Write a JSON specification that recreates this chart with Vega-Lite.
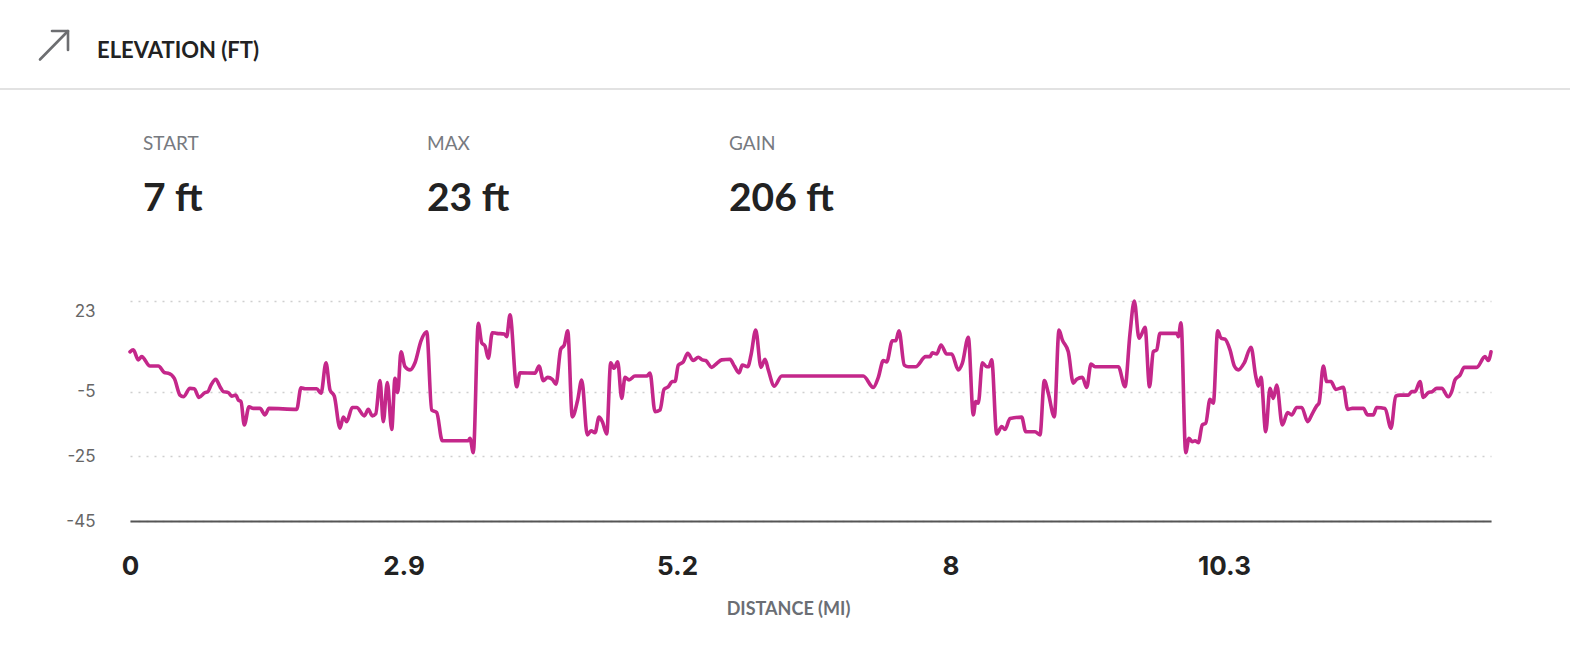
{
  "$schema": "https://vega.github.io/schema/vega-lite/v6.json",
  "width": 1361,
  "height": 521,
  "autosize": {"type": "none"},
  "padding": {"left": 130, "top": 0, "right": 79, "bottom": 149},
  "background": "white",
  "config": {"view": {"stroke": null}},
  "datasets": {
    "elevation": [
      {"i": 0, "ft": 7.3}, {"i": 0.0121, "ft": 7.9}, {"i": 0.0303, "ft": 4.8}, {"i": 0.0428, "ft": 5.8},
      {"i": 0.0731, "ft": 2.9}, {"i": 0.1035, "ft": 2.9}, {"i": 0.128, "ft": 0.8}, {"i": 0.14, "ft": 0.7},
      {"i": 0.162, "ft": -0.9}, {"i": 0.1828, "ft": -6.1}, {"i": 0.1949, "ft": -6.6}, {"i": 0.2194, "ft": -4.0},
      {"i": 0.2351, "ft": -4.1}, {"i": 0.2523, "ft": -6.8}, {"i": 0.2742, "ft": -5.3}, {"i": 0.2841, "ft": -5.1},
      {"i": 0.2962, "ft": -3.0}, {"i": 0.3133, "ft": -1.2}, {"i": 0.3291, "ft": -3.5}, {"i": 0.3411, "ft": -5.0},
      {"i": 0.3594, "ft": -5.3}, {"i": 0.3718, "ft": -6.4}, {"i": 0.3865, "ft": -6.1}, {"i": 0.396, "ft": -7.6},
      {"i": 0.4059, "ft": -8.1}, {"i": 0.4179, "ft": -15.3}, {"i": 0.4351, "ft": -9.7}, {"i": 0.4508, "ft": -10.2},
      {"i": 0.4753, "ft": -10.2}, {"i": 0.4936, "ft": -12.2}, {"i": 0.5082, "ft": -10.2}, {"i": 0.6095, "ft": -10.5},
      {"i": 0.6252, "ft": -3.8}, {"i": 0.6399, "ft": -4.1}, {"i": 0.6826, "ft": -4.1}, {"i": 0.6984, "ft": -5.5},
      {"i": 0.7166, "ft": 3.9}, {"i": 0.7313, "ft": -4.5}, {"i": 0.747, "ft": -6.4}, {"i": 0.7678, "ft": -16.3},
      {"i": 0.7799, "ft": -12.9}, {"i": 0.7923, "ft": -14.3}, {"i": 0.8128, "ft": -9.9}, {"i": 0.8289, "ft": -9.9},
      {"i": 0.8567, "ft": -12.5}, {"i": 0.8713, "ft": -10.5}, {"i": 0.8859, "ft": -12.5}, {"i": 0.8984, "ft": -11.9},
      {"i": 0.9141, "ft": -1.6}, {"i": 0.9261, "ft": -14.3}, {"i": 0.9408, "ft": -2.2}, {"i": 0.9569, "ft": -16.7},
      {"i": 0.9689, "ft": -0.9}, {"i": 0.9788, "ft": -5.3}, {"i": 0.9909, "ft": 7.3}, {"i": 1.0055, "ft": 2.7},
      {"i": 1.0238, "ft": 1.7}, {"i": 1.042, "ft": 3.9}, {"i": 1.064, "ft": 10.7}, {"i": 1.0848, "ft": 13.5},
      {"i": 1.1031, "ft": -10.7}, {"i": 1.1214, "ft": -11.5}, {"i": 1.1419, "ft": -20.2}, {"i": 1.158, "ft": -20.2},
      {"i": 1.2369, "ft": -20.2}, {"i": 1.2431, "ft": -19.4}, {"i": 1.2552, "ft": -23.9}, {"i": 1.2735, "ft": 16.1},
      {"i": 1.2859, "ft": 10.1}, {"i": 1.298, "ft": 9.1}, {"i": 1.3101, "ft": 5.3}, {"i": 1.3247, "ft": 13.2},
      {"i": 1.3408, "ft": 13.0}, {"i": 1.3686, "ft": 12.8}, {"i": 1.3773, "ft": 12.0}, {"i": 1.3894, "ft": 18.7},
      {"i": 1.4139, "ft": -3.5}, {"i": 1.426, "ft": 0.8}, {"i": 1.4808, "ft": 0.7}, {"i": 1.4954, "ft": 2.9},
      {"i": 1.5111, "ft": -1.6}, {"i": 1.5272, "ft": -0.6}, {"i": 1.5441, "ft": -1.2}, {"i": 1.5576, "ft": -2.7},
      {"i": 1.5748, "ft": 8.1}, {"i": 1.5879, "ft": 9.4}, {"i": 1.6004, "ft": 13.8}, {"i": 1.6172, "ft": -12.8},
      {"i": 1.6369, "ft": -7.6}, {"i": 1.6516, "ft": -1.4}, {"i": 1.672, "ft": -18.4}, {"i": 1.6856, "ft": -17.1},
      {"i": 1.7002, "ft": -17.7}, {"i": 1.7148, "ft": -12.9}, {"i": 1.7269, "ft": -14.3}, {"i": 1.743, "ft": -18.1},
      {"i": 1.7576, "ft": 3.9}, {"i": 1.7697, "ft": 2.2}, {"i": 1.7832, "ft": 4.2}, {"i": 1.7978, "ft": -7.1},
      {"i": 1.8099, "ft": -0.6}, {"i": 1.8245, "ft": -1.4}, {"i": 1.8464, "ft": -0.2}, {"i": 1.8892, "ft": -0.2},
      {"i": 1.9013, "ft": 0.7}, {"i": 1.9196, "ft": -11.2}, {"i": 1.9378, "ft": -10.7}, {"i": 1.9525, "ft": -4.3},
      {"i": 1.9682, "ft": -3.5}, {"i": 1.9828, "ft": -1.9}, {"i": 1.9927, "ft": -1.9}, {"i": 2.0048, "ft": 3.2},
      {"i": 2.023, "ft": 4.2}, {"i": 2.0391, "ft": 6.8}, {"i": 2.0596, "ft": 4.6}, {"i": 2.0779, "ft": 5.6},
      {"i": 2.0925, "ft": 4.8}, {"i": 2.1049, "ft": 4.6}, {"i": 2.1269, "ft": 2.5}, {"i": 2.1452, "ft": 3.7},
      {"i": 2.1634, "ft": 4.8}, {"i": 2.1938, "ft": 5.0}, {"i": 2.2095, "ft": 2.9}, {"i": 2.2267, "ft": 0.8},
      {"i": 2.2388, "ft": 3.2}, {"i": 2.2585, "ft": 2.7}, {"i": 2.2706, "ft": 6.3}, {"i": 2.2878, "ft": 14.0},
      {"i": 2.3071, "ft": 2.5}, {"i": 2.3218, "ft": 5.0}, {"i": 2.3338, "ft": 1.7}, {"i": 2.3558, "ft": -3.3},
      {"i": 2.3828, "ft": -0.2}, {"i": 2.6812, "ft": -0.2}, {"i": 2.7177, "ft": -3.7}, {"i": 2.736, "ft": -0.6},
      {"i": 2.7543, "ft": 4.6}, {"i": 2.7667, "ft": 4.2}, {"i": 2.7872, "ft": 10.7}, {"i": 2.7996, "ft": 10.7},
      {"i": 2.8117, "ft": 13.8}, {"i": 2.8311, "ft": 3.2}, {"i": 2.8457, "ft": 2.7}, {"i": 2.8727, "ft": 2.7},
      {"i": 2.9093, "ft": 5.8}, {"i": 2.925, "ft": 5.8}, {"i": 2.9335, "ft": 7.0}, {"i": 2.9495, "ft": 6.6},
      {"i": 2.9653, "ft": 9.4}, {"i": 2.9861, "ft": 6.6}, {"i": 3.0044, "ft": 6.6}, {"i": 3.0285, "ft": 1.7},
      {"i": 3.0431, "ft": 3.7}, {"i": 3.0651, "ft": 11.8}, {"i": 3.0834, "ft": -12.2}, {"i": 3.0921, "ft": -8.1},
      {"i": 3.1016, "ft": -8.6}, {"i": 3.1163, "ft": 3.9}, {"i": 3.1324, "ft": 2.7}, {"i": 3.1408, "ft": 2.7},
      {"i": 3.1506, "ft": 4.8}, {"i": 3.1689, "ft": -18.1}, {"i": 3.1872, "ft": -15.8}, {"i": 3.1993, "ft": -16.7},
      {"i": 3.2176, "ft": -13.3}, {"i": 3.2603, "ft": -12.9}, {"i": 3.275, "ft": -17.4}, {"i": 3.309, "ft": -17.4},
      {"i": 3.3272, "ft": -18.4}, {"i": 3.343, "ft": -1.6}, {"i": 3.3576, "ft": -5.5}, {"i": 3.3795, "ft": -12.8},
      {"i": 3.3967, "ft": 14.0}, {"i": 3.4088, "ft": 11.0}, {"i": 3.4307, "ft": 7.3}, {"i": 3.449, "ft": -2.4},
      {"i": 3.4614, "ft": -1.2}, {"i": 3.4819, "ft": -0.6}, {"i": 3.498, "ft": -3.7}, {"i": 3.5137, "ft": 3.5},
      {"i": 3.5283, "ft": 2.7}, {"i": 3.6135, "ft": 2.7}, {"i": 3.638, "ft": -3.5}, {"i": 3.6563, "ft": 13.0},
      {"i": 3.672, "ft": 23.0}, {"i": 3.6892, "ft": 11.5}, {"i": 3.7086, "ft": 14.6}, {"i": 3.7112, "ft": 14.9},
      {"i": 3.7276, "ft": -3.5}, {"i": 3.7415, "ft": 7.3}, {"i": 3.7539, "ft": 7.9}, {"i": 3.766, "ft": 13.0},
      {"i": 3.8271, "ft": 13.0}, {"i": 3.8329, "ft": 12.0}, {"i": 3.8428, "ft": 16.3}, {"i": 3.86, "ft": -23.9},
      {"i": 3.872, "ft": -19.4}, {"i": 3.8841, "ft": -20.5}, {"i": 3.894, "ft": -20.2}, {"i": 3.9061, "ft": -20.8},
      {"i": 3.9207, "ft": -15.3}, {"i": 3.9331, "ft": -14.8}, {"i": 3.9488, "ft": -7.4}, {"i": 3.9609, "ft": -8.6},
      {"i": 3.977, "ft": 13.8}, {"i": 3.989, "ft": 11.5}, {"i": 4.0037, "ft": 11.2}, {"i": 4.0219, "ft": 7.9},
      {"i": 4.0377, "ft": 2.9}, {"i": 4.0523, "ft": 1.7}, {"i": 4.0742, "ft": 3.9}, {"i": 4.0987, "ft": 8.7},
      {"i": 4.1159, "ft": -0.2}, {"i": 4.1254, "ft": -3.3}, {"i": 4.1353, "ft": -0.6}, {"i": 4.1525, "ft": -17.4},
      {"i": 4.1682, "ft": -4.0}, {"i": 4.1803, "ft": -7.1}, {"i": 4.1927, "ft": -3.0}, {"i": 4.2132, "ft": -15.3},
      {"i": 4.2329, "ft": -11.5}, {"i": 4.2475, "ft": -12.2}, {"i": 4.2658, "ft": -9.9}, {"i": 4.2841, "ft": -9.9},
      {"i": 4.306, "ft": -14.3}, {"i": 4.3207, "ft": -12.2}, {"i": 4.3389, "ft": -9.4}, {"i": 4.3473, "ft": -8.6},
      {"i": 4.3631, "ft": 2.9}, {"i": 4.3755, "ft": -1.9}, {"i": 4.3912, "ft": -1.9}, {"i": 4.4084, "ft": -4.3},
      {"i": 4.4362, "ft": -3.7}, {"i": 4.4523, "ft": -10.5}, {"i": 4.4691, "ft": -10.2}, {"i": 4.5093, "ft": -10.2},
      {"i": 4.5254, "ft": -12.2}, {"i": 4.5459, "ft": -12.2}, {"i": 4.5583, "ft": -9.9}, {"i": 4.5887, "ft": -10.2},
      {"i": 4.6106, "ft": -16.3}, {"i": 4.6278, "ft": -6.4}, {"i": 4.6435, "ft": -6.1}, {"i": 4.6739, "ft": -6.1},
      {"i": 4.6863, "ft": -5.0}, {"i": 4.6984, "ft": -5.0}, {"i": 4.7166, "ft": -1.9}, {"i": 4.7287, "ft": -6.8},
      {"i": 4.747, "ft": -5.3}, {"i": 4.7616, "ft": -5.0}, {"i": 4.7777, "ft": -4.0}, {"i": 4.796, "ft": -4.0},
      {"i": 4.8201, "ft": -6.6}, {"i": 4.8325, "ft": -5.0}, {"i": 4.8446, "ft": -1.4}, {"i": 4.8629, "ft": 0.1},
      {"i": 4.8786, "ft": 2.5}, {"i": 4.924, "ft": 2.5}, {"i": 4.9543, "ft": 5.8}, {"i": 4.9664, "ft": 4.6},
      {"i": 4.9762, "ft": 7.3}
    ]
  },
  "layer": [
    {
      "data": {"name": "elevation"},
      "mark": {"type": "line", "color": "#c4278a", "strokeWidth": 3.6, "interpolate": "monotone", "strokeJoin": "round", "strokeCap": "round"},
      "encoding": {
        "x": {
          "field": "i", "type": "quantitative",
          "scale": {"domain": [0, 4.9762], "nice": false, "zero": false},
          "axis": {
            "values": [0, 1, 2, 3, 4],
            "labelExpr": "['0','2.9','5.2','8','10.3'][datum.value]",
            "title": "DISTANCE (MI)",
            "grid": false, "ticks": false, "tickSize": 0,
            "domainColor": "#555555", "domainWidth": 2,
            "labelFont": "Inter", "labelFontSize": 26, "labelFontWeight": "bold", "labelColor": "#222222",
            "labelPadding": 32, "labelFlush": false, "labelOverlap": false, "labelBound": false,
            "titleFont": "Lato", "titleFontSize": 18,
            "titleFontWeight": "bold", "titleColor": "#6b6e74", "titlePadding": 21, "titleX": 658
          }
        },
        "y": {
          "field": "ft", "type": "quantitative",
          "scale": {"domain": [-45, 116.04], "nice": false, "zero": false},
          "axis": {
            "values": [-45, -25, -5, 23],
            "labelExpr": "datum.value + ''",
            "title": null, "domain": false, "ticks": false, "tickSize": 0,
            "labelPadding": 35, "labelFont": "Inter", "labelFontSize": 17, "labelColor": "#666666",
            "labelOffset": {"condition": {"test": "datum.value === 23", "value": 10}, "value": 0},
            "grid": true, "gridColor": "#cfcfcf", "gridDash": [2, 6], "gridWidth": 1.5
          }
        }
      }
    },
    {
      "data": {"values": [{}]},
      "mark": {"type": "rule", "color": "#e2e2e2", "strokeWidth": 2},
      "encoding": {"x": {"datum": -0.4753}, "x2": {"datum": 5.2651}, "y": {"datum": 88.53}}
    },
    {
      "data": {"values": [{}]},
      "mark": {"type": "rule", "color": "#6d6e71", "strokeWidth": 2.6, "strokeCap": "round"},
      "encoding": {"x": {"datum": -0.3291}, "x2": {"datum": -0.2303}, "y": {"datum": 97.64}, "y2": {"datum": 106.14}}
    },
    {
      "data": {"values": [{}]},
      "mark": {"type": "rule", "color": "#6d6e71", "strokeWidth": 2.6, "strokeCap": "round"},
      "encoding": {"x": {"datum": -0.2852}, "x2": {"datum": -0.2267}, "y": {"datum": 106.45}}
    },
    {
      "data": {"values": [{}]},
      "mark": {"type": "rule", "color": "#6d6e71", "strokeWidth": 2.6, "strokeCap": "round"},
      "encoding": {"x": {"datum": -0.2267}, "y": {"datum": 106.45}, "y2": {"datum": 100.58}}
    },
    {
      "data": {"values": [{}]},
      "mark": {"type": "text", "text": "ELEVATION (FT)", "align": "left", "baseline": "alphabetic", "font": "Lato", "fontSize": 22, "fontWeight": "bold", "color": "#222222"},
      "encoding": {"x": {"datum": -0.1207}, "y": {"datum": 98.02}}
    },
    {
      "data": {"values": [{}]},
      "mark": {"type": "text", "text": "START", "align": "left", "baseline": "alphabetic", "font": "Lato", "fontSize": 19, "color": "#777a80"},
      "encoding": {"x": {"datum": 0.0475}, "y": {"datum": 69.67}}
    },
    {
      "data": {"values": [{}]},
      "mark": {"type": "text", "text": "MAX", "align": "left", "baseline": "alphabetic", "font": "Lato", "fontSize": 19, "color": "#777a80"},
      "encoding": {"x": {"datum": 1.0859}, "y": {"datum": 69.67}}
    },
    {
      "data": {"values": [{}]},
      "mark": {"type": "text", "text": "GAIN", "align": "left", "baseline": "alphabetic", "font": "Lato", "fontSize": 19, "color": "#777a80"},
      "encoding": {"x": {"datum": 2.1901}, "y": {"datum": 69.67}}
    },
    {
      "data": {"values": [{}]},
      "mark": {"type": "text", "text": "7 ft", "align": "left", "baseline": "alphabetic", "font": "Lato", "fontSize": 39, "fontWeight": "bold", "color": "#222222"},
      "encoding": {"x": {"datum": 0.0475}, "y": {"datum": 50.82}}
    },
    {
      "data": {"values": [{}]},
      "mark": {"type": "text", "text": "23 ft", "align": "left", "baseline": "alphabetic", "font": "Lato", "fontSize": 39, "fontWeight": "bold", "color": "#222222"},
      "encoding": {"x": {"datum": 1.0859}, "y": {"datum": 50.82}}
    },
    {
      "data": {"values": [{}]},
      "mark": {"type": "text", "text": "206 ft", "align": "left", "baseline": "alphabetic", "font": "Lato", "fontSize": 39, "fontWeight": "bold", "color": "#222222"},
      "encoding": {"x": {"datum": 2.1901}, "y": {"datum": 50.82}}
    }
  ]
}
